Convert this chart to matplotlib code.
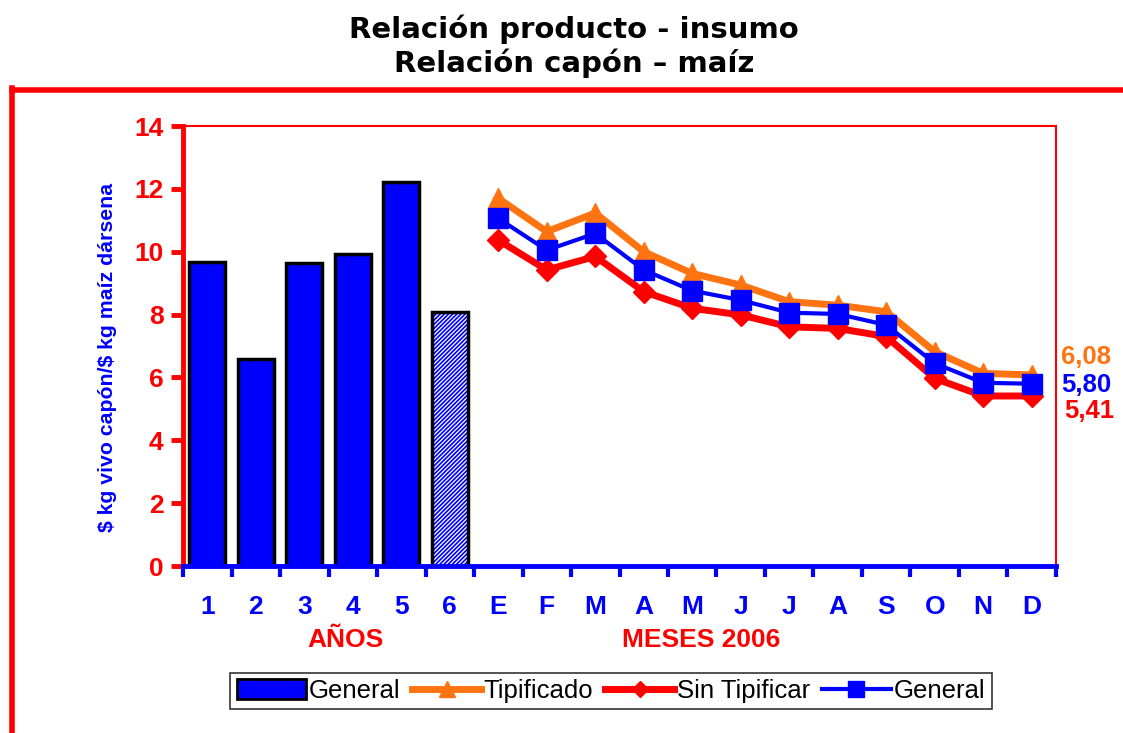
import matplotlib
matplotlib.use("Agg")
import matplotlib.pyplot as plt
from matplotlib.patches import Rectangle
from matplotlib.lines import Line2D

# datos
anios = ["1", "2", "3", "4", "5", "6"]
meses = ["E", "F", "M", "A", "M", "J", "J", "A", "S", "O", "N", "D"]
general_anual = [9.68, 6.58, 9.65, 9.93, 12.21, 8.09]
tipificado = [11.70, 10.64, 11.23, 10.00, 9.31, 8.94, 8.41, 8.30, 8.09, 6.82, 6.13, 6.08]
sin_tipificar = [10.37, 9.42, 9.85, 8.73, 8.20, 7.99, 7.61, 7.56, 7.30, 5.97, 5.41, 5.41]
general_mensual = [11.06, 10.05, 10.58, 9.42, 8.76, 8.46, 8.06, 8.02, 7.67, 6.45, 5.83, 5.80]

AZUL = "#0000FF"
ROJO = "#FF0000"
NARANJA = "#FF7410"
FUENTE = "Liberation Sans"

fig = plt.figure(figsize=(11.23, 7.33), dpi=100)
ax = fig.add_axes([0.163, 0.2278, 0.7773, 0.6003])

n = len(anios) + len(meses)
x_bar = [i + 0.5 for i in range(len(anios))]
x_lin = [len(anios) + i + 0.5 for i in range(len(meses))]

# barras (la ultima rayada)
ax.bar(x_bar[:-1], general_anual[:-1], width=0.74, color=AZUL, edgecolor="black", linewidth=2.5, zorder=2)
plt.rcParams["hatch.linewidth"] = 1.2
ax.bar(x_bar[-1:], general_anual[-1:], width=0.74, color="white", edgecolor=AZUL, hatch="////////", linewidth=0, zorder=2)
ax.bar(x_bar[-1:], general_anual[-1:], width=0.74, fill=False, edgecolor="black", linewidth=2.5, zorder=3)

# lineas mensuales
ax.plot(x_lin, tipificado, color=NARANJA, lw=5, marker="^", ms=15, zorder=4, clip_on=False)
ax.plot(x_lin, sin_tipificar, color=ROJO, lw=5, marker="D", ms=11.5, zorder=5, clip_on=False)
ax.plot(x_lin, general_mensual, color=AZUL, lw=3, marker="s", ms=14, zorder=6, clip_on=False)

ax.set_xlim(0, n)
ax.set_ylim(0, 14)
ax.set_yticks(range(0, 15, 2))
ax.set_xticks(x_bar + x_lin)
ax.set_xticklabels(anios + meses)
ax.set_xticks(range(0, n + 1), minor=True)

for lab in ax.get_yticklabels():
    lab.set_fontproperties({"family": FUENTE, "weight": "bold", "size": 19})
    lab.set_color(ROJO)
for lab in ax.get_xticklabels():
    lab.set_fontproperties({"family": FUENTE, "weight": "bold", "size": 19})
    lab.set_color(AZUL)

ax.tick_params(axis="y", colors=ROJO, length=9, width=3.5, direction="out", pad=5)
ax.tick_params(axis="x", which="major", length=0, pad=21)
ax.tick_params(axis="x", which="minor", colors=AZUL, length=8, width=3, direction="out")

ax.spines["left"].set_color(ROJO)
ax.spines["left"].set_linewidth(3.5)
ax.spines["bottom"].set_color(AZUL)
ax.spines["bottom"].set_linewidth(3.5)
ax.spines["bottom"].set_zorder(7)
ax.spines["top"].set_color(ROJO)
ax.spines["top"].set_linewidth(1.5)
ax.spines["right"].set_color(ROJO)
ax.spines["right"].set_linewidth(1.5)

ax.set_ylabel("\\$ kg vivo capón/\\$ kg maíz dársena", color=AZUL, fontsize=15.3,
              fontweight="bold", family=FUENTE)
ax.yaxis.set_label_coords(-0.076, 0.473)

# etiquetas de grupo
fig.text(345 / 1123, 1 - 640 / 733, "AÑOS", color=ROJO, fontsize=19, fontweight="bold",
         family=FUENTE, ha="center", va="center")
fig.text(701 / 1123, 1 - 640 / 733, "MESES 2006", color=ROJO, fontsize=19, fontweight="bold",
         family=FUENTE, ha="center", va="center")

# valores finales
fig.text(1061 / 1123, 1 - 357 / 733, "6,08", color=NARANJA, fontsize=18.5, fontweight="bold",
         family=FUENTE, ha="left", va="center")
fig.text(1061 / 1123, 1 - 385 / 733, "5,80", color=AZUL, fontsize=18.5, fontweight="bold",
         family=FUENTE, ha="left", va="center")
fig.text(1064 / 1123, 1 - 411 / 733, "5,41", color=ROJO, fontsize=18.5, fontweight="bold",
         family=FUENTE, ha="left", va="center")

# titulo
fig.text(0.511, 1 - 29 / 733, "Relación producto - insumo", fontsize=21, fontweight="bold",
         family="DejaVu Sans", ha="center", va="center")
fig.text(0.511, 1 - 63 / 733, "Relación capón \u2013 maíz", fontsize=21, fontweight="bold",
         family="DejaVu Sans", ha="center", va="center")

# marco rojo exterior
fig.add_artist(Line2D([12 / 1123, 1], [1 - 90 / 733, 1 - 90 / 733], color=ROJO, lw=4, transform=fig.transFigure))
fig.add_artist(Line2D([12 / 1123, 12 / 1123], [0, 1 - 88 / 733], color=ROJO, lw=4, transform=fig.transFigure))

# leyenda
handles = [
    Rectangle((0, 0), 1, 1, facecolor=AZUL, edgecolor="black", linewidth=2),
    Line2D([], [], color=NARANJA, lw=5, marker="^", ms=12),
    Line2D([], [], color=ROJO, lw=5, marker="D", ms=8),
    Line2D([], [], color=AZUL, lw=3, marker="s", ms=11),
]
etiquetas = ["General", "Tipificado", "Sin Tipificar", "General"]
leg = fig.legend(handles, etiquetas, loc="center", bbox_to_anchor=(611 / 1123, 1 - 691 / 733),
                 ncol=4, frameon=True, fancybox=False, edgecolor="black", handlelength=2.7,
                 handleheight=0.8, handletextpad=0.1, columnspacing=0.45, borderpad=0.25,
                 prop={"family": FUENTE, "size": 18.5})
leg.get_frame().set_linewidth(1.2)

fig.savefig("out.png", dpi=100)
